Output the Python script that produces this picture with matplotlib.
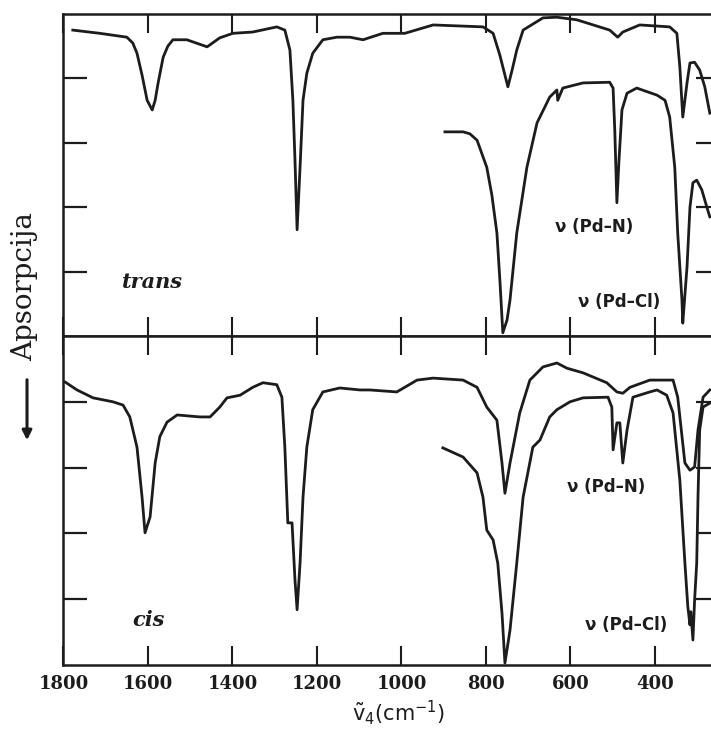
"""
IR spectra of trans- and cis-[PdCl2(py)2], absorption pointing down...
"""

import sys
import matplotlib.pyplot as plt


#==============================================================================
# Data (wavenumber in cm-1, trace height in tick units).
#==============================================================================
trans_wn = [1778, 1714, 1650, 1636, 1626, 1614, 1602, 1590, 1583, 1576, 1564,
            1553, 1541, 1508, 1460, 1430, 1399, 1352, 1295, 1276, 1264, 1257,
            1252, 1247, 1240, 1233, 1224, 1210, 1186, 1153, 1122, 1091, 1044,
            992, 925, 807, 783, 767, 748, 738, 727, 712, 665, 632, 585, 507,
            488, 476, 436, 365, 348, 341, 334, 324, 317, 306, 294, 282, 270]
trans_a = [4.75, 4.70, 4.64, 4.55, 4.39, 4.05, 3.66, 3.51, 3.66, 3.93, 4.33,
           4.50, 4.60, 4.60, 4.49, 4.63, 4.70, 4.72, 4.80, 4.75, 4.44, 3.66,
           2.73, 1.65, 2.62, 3.66, 4.08, 4.39, 4.60, 4.64, 4.64, 4.60, 4.70,
           4.70, 4.83, 4.80, 4.70, 4.36, 3.87, 4.13, 4.44, 4.75, 4.94, 4.95,
           4.91, 4.75, 4.64, 4.72, 4.83, 4.80, 4.70, 4.18, 3.40, 3.93, 4.24,
           4.25, 4.13, 3.87, 3.46]

# far IR trace of trans, drawn expanded
trans_far_wn = [897, 854, 838, 821, 798, 786, 774, 767, 760, 750, 743, 727,
                703, 679, 649, 632, 630, 618, 570, 507, 499, 495, 490, 485,
                478, 466, 443, 395, 376, 365, 353, 346, 336, 334, 324, 317,
                310, 301, 289, 277, 270]
trans_far_a = [3.17, 3.17, 3.14, 3.04, 2.62, 2.19, 1.60, 0.87, 0.05, 0.25,
               0.56, 1.60, 2.62, 3.31, 3.71, 3.82, 3.66, 3.85, 3.93, 3.94,
               3.85, 3.20, 2.07, 2.73, 3.51, 3.77, 3.85, 3.74, 3.66, 3.40,
               2.62, 1.60, 0.56, 0.20, 1.07, 2.00, 2.38, 2.42, 2.27, 2.00,
               1.85]

cis_wn = [1796, 1768, 1730, 1683, 1659, 1643, 1626, 1614, 1607, 1595, 1583,
          1572, 1555, 1531, 1477, 1453, 1430, 1413, 1382, 1352, 1328, 1295,
          1283, 1276, 1269, 1259, 1252, 1247, 1240, 1233, 1224, 1210, 1186,
          1146, 1098, 1075, 1011, 963, 925, 854, 821, 798, 774, 762, 755,
          743, 720, 696, 665, 632, 608, 570, 514, 490, 476, 459, 412, 357,
          346, 329, 317, 306, 298, 286, 270]
cis_a = [4.30, 4.18, 4.06, 4.00, 3.95, 3.77, 3.31, 2.55, 2.01, 2.25, 3.07,
         3.47, 3.69, 3.80, 3.77, 3.77, 3.92, 4.06, 4.10, 4.22, 4.29, 4.26,
         4.07, 3.31, 2.16, 2.16, 1.29, 0.84, 1.55, 2.55, 3.31, 3.88, 4.15,
         4.21, 4.18, 4.18, 4.15, 4.33, 4.36, 4.33, 4.22, 3.92, 3.72, 3.07,
         2.61, 3.07, 3.83, 4.33, 4.53, 4.59, 4.51, 4.44, 4.29, 4.15, 4.13,
         4.22, 4.33, 4.33, 4.07, 3.07, 2.96, 3.01, 3.57, 4.07, 4.18]

# far IR trace of cis
cis_far_wn = [902, 854, 821, 807, 798, 783, 772, 762, 755, 743, 727, 712,
              689, 672, 649, 632, 601, 570, 511, 502, 499, 490, 483, 476,
              466, 452, 412, 395, 372, 357, 341, 329, 322, 317, 315, 310,
              306, 301, 298, 294, 286, 270]
cis_far_a = [3.30, 3.16, 2.92, 2.55, 2.05, 1.90, 1.55, 0.79, 0.03, 0.53,
             1.55, 2.55, 3.31, 3.42, 3.77, 3.88, 4.00, 4.06, 4.07, 3.92,
             3.27, 3.68, 3.68, 3.07, 3.57, 4.07, 4.15, 4.18, 4.10, 3.83,
             2.81, 1.55, 0.88, 0.61, 0.81, 0.38, 0.99, 1.55, 2.55, 3.57,
             3.92, 3.98]

xticks = [1800, 1600, 1400, 1200, 1000, 800, 600, 400]
yticks = [1, 2, 3, 4]

panel_names = ['trans', 'cis']
band_names = [u'\u03bd (Pd\u2013N)', u'\u03bd (Pd\u2013Cl)']
# label anchors (wavenumber, height) per panel: name, Pd-N, Pd-Cl
label_pos = [[(1590, 0.84), (637, 1.69), (582, 0.53)],
             [(1598, 0.68), (609, 2.71), (566, 0.61)]]


#==============================================================================
# Main function.
#==============================================================================
def main(argv):
    clr = '#1c1c1c'
    plt.rcParams['mathtext.fontset'] = 'dejavusans'
    fig = plt.figure(figsize=(7.11, 7.33), dpi=100)

    ax1 = fig.add_axes([0.0893, 0.5416, 0.9233, 0.4393])
    ax2 = fig.add_axes([0.0893, 0.0928, 0.9233, 0.4488])

    ax1.plot(trans_wn, trans_a, color=clr, lw=2.0, solid_joinstyle='round')
    ax1.plot(trans_far_wn, trans_far_a, color=clr, lw=2.0, solid_joinstyle='round')
    ax2.plot(cis_wn, cis_a, color=clr, lw=2.0, solid_joinstyle='round')
    ax2.plot(cis_far_wn, cis_far_a, color=clr, lw=2.0, solid_joinstyle='round')

    for i, ax in enumerate([ax1, ax2]):
        ax.set_xlim(1800, 246)
        ax.set_ylim(0, 5)
        ax.set_xticks(xticks)
        ax.set_yticks(yticks)
        ax.tick_params(axis='x', direction='in', top=True, bottom=True,
                       length=13.5, width=1.5, color=clr)
        ax.tick_params(axis='y', direction='in', left=True, right=True,
                       length=17, width=1.6, color=clr, labelleft=False)
        ax.spines['right'].set_visible(False)
        for s in ['left', 'top', 'bottom']:
            ax.spines[s].set_linewidth(1.8)
            ax.spines[s].set_color(clr)

        nm = label_pos[i]
        ax.text(nm[0][0], nm[0][1], panel_names[i], ha='center', va='center',
                family='DejaVu Serif', style='italic', weight='bold',
                fontsize=15, color=clr)
        for j in range(2):
            ax.text(nm[j + 1][0], nm[j + 1][1], band_names[j], ha='left',
                    va='center', family='DejaVu Sans', weight='bold',
                    fontsize=12, color=clr)

    ax1.tick_params(axis='x', labelbottom=False)
    ax2.tick_params(axis='x', pad=7)
    for lb in ax2.get_xticklabels():
        lb.set_family('DejaVu Serif')
        lb.set_weight('bold')
        lb.set_fontsize(13)
        lb.set_color(clr)

    fig.text(0.56, 0.0273, r'$\tilde{\mathrm{v}}_4(\mathrm{cm}^{-1})$',
             ha='center', va='center', fontsize=15, color=clr)

    # y label with the down arrow under it
    fig.text(0.035, 0.6085, 'Apsorpcija', rotation=90, ha='center',
             va='center', family='DejaVu Serif', fontsize=20, color=clr)
    ax1.annotate('', xy=(0.038, 0.3956), xytext=(0.038, 0.4857),
                 xycoords='figure fraction', textcoords='figure fraction',
                 arrowprops=dict(arrowstyle='-|>', color=clr, lw=2.2,
                                 mutation_scale=14))

    fig.savefig('out.png', dpi=100)


if __name__ == "__main__":
    main(sys.argv)
